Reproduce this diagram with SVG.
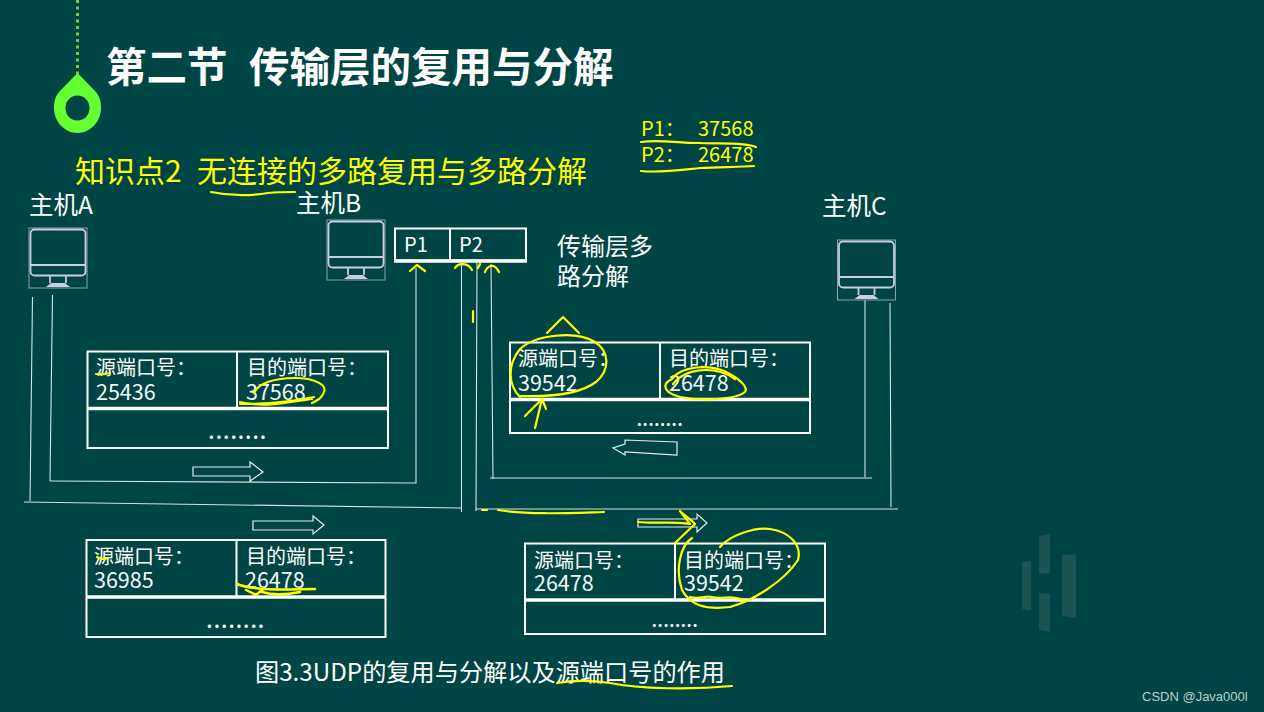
<svg xmlns="http://www.w3.org/2000/svg" width="1264" height="712" viewBox="0 0 1264 712">
<defs>
<style>
text{font-family:"Noto Sans CJK SC","Liberation Sans",sans-serif;fill:#fff}
.t{font-size:20px}
.n{font-size:21.500px;fill:#f4f8f8}
.y{fill:#ffff00}
.box{fill:none;stroke:#fff;stroke-width:2}
.thick{stroke:#fff;stroke-width:3.5;fill:none}
.wire{fill:none;stroke:#d3e2e2;stroke-width:1.1}
.ink{fill:none;stroke:#ffff00;stroke-width:2.200;stroke-linecap:round;stroke-linejoin:round}
.blk{fill:none;stroke:#e6eeee;stroke-width:1.2}
.mon{fill:none;stroke:#c9cde3;stroke-width:1.8}
.dots{font-size:18px;font-weight:700;letter-spacing:1.500px}
.dots2{font-size:16px;font-weight:700;letter-spacing:.6px}
.wm{fill:#1a5554}
</style>
<g id="monitor">
<rect x="0" y="0" width="58" height="60" fill="none" stroke="#8ea3ab" stroke-width="1"/>
<rect x="1.500" y="1.500" width="55" height="46" rx="4" class="mon"/>
<path d="M1.500 37H56.500" class="mon"/>
<path d="M21 48V55M37 48V55" class="mon"/>
<path d="M17 59L22 55H36L41 59Z" fill="#c9cde3"/>
</g>
</defs>
<rect width="1264" height="712" fill="#004545"/>
<g id="decor">
<path d="M77.500 0V74" stroke="#7dc832" stroke-width="3" stroke-dasharray="3 3.500" fill="none"/>
<path fill-rule="evenodd" d="M77.500 73L95 91C100 96 101 102 101 108C101 122 90 133 77.500 133C65 133 54 122 54 108C54 102 55 96 60 91ZM77.500 95.500C70.500 95.500 65.500 101 65.500 108C65.500 115 70.500 120.500 77.500 120.500C84.500 120.500 89.500 115 89.500 108C89.500 101 84.500 95.500 77.500 95.500Z" fill="#66ff33"/>
<g id="watermark">
<path class="wm" d="M1022 562L1031 561V610L1022 609Z"/>
<path class="wm" d="M1039 536L1050 534V573L1039 574Z"/>
<path class="wm" d="M1039 593L1050 594V632L1039 630Z"/>
<path class="wm" d="M1062 555L1076 554V618L1062 616Z"/>
</g>
</g>
<text y="82" font-size="40.500" font-weight="700"><tspan x="106">第二节</tspan><tspan x="249">传输层的复用与分解</tspan></text>
<text y="182" font-size="30" class="y"><tspan x="75">知识点2</tspan><tspan x="197">无连接的多路复用与多路分解</tspan></text>
<text x="641" y="136" font-size="20" class="y">P1：</text><text x="698" y="136" font-size="20" class="y">37568</text>
<text x="641" y="162" font-size="20" class="y">P2：</text><text x="698" y="162" font-size="20" class="y">26478</text>
<text x="557" y="255" font-size="24">传输层多</text>
<text x="557" y="285" font-size="24">路分解</text>
<text x="255" y="681" font-size="24.200">图3.3UDP的复用与分解以及源端口号的作用</text>
<text x="1142" y="701" font-size="13" style="font-family:'Liberation Sans',sans-serif;fill:#b9cfcf">CSDN @Java000l</text>

<g id="connectors">
<path class="wire" d="M32.500 297L30 501"/>
<path class="wire" d="M52.500 295L50 481"/>
<path class="wire" d="M50 481L416 483V268"/>
<path class="wire" d="M24 502L461 508"/>
<path class="wire" d="M461.500 263V512"/>
<path class="wire" d="M477 263L476 511"/>
<path class="wire" d="M476 509H898"/>
<path class="wire" d="M491 264L493 479"/>
<path class="wire" d="M490 478H872"/>
<path class="wire" d="M865 300V477"/>
<path class="wire" d="M890 303L891 507"/>
<path class="blk" d="M193 467H250V462L263 472L250 481V476H193Z"/>
<path class="blk" d="M253 521H313V516L324 525L313 534V530H253Z"/>
<path class="blk" d="M677 442L625 440V444L613 448L625 455V452L677 455Z"/>
<path class="blk" d="M638 519H697V514L707 523L697 532V527H638Z"/>
</g>

<g id="host-a"><text x="29" y="214" font-size="24.500">主机A</text><use href="#monitor" x="29" y="228"/></g>
<g id="host-b"><text x="296" y="212" font-size="24.500">主机B</text><use href="#monitor" x="327" y="220"/></g>
<g id="host-c"><text x="822" y="215" font-size="24.500">主机C</text><use href="#monitor" x="837.500" y="240"/></g>

<g id="ports">
<rect x="395" y="228.500" width="131" height="32" class="box"/>
<path class="thick" d="M394 261H527"/>
<path class="box" d="M450 229V260"/>
<text x="404" y="252" class="t">P1</text>
<text x="459" y="252" class="t">P2</text>
</g>

<g id="segment-a1">
<rect x="87.500" y="351.500" width="300.500" height="96.500" class="box"/>
<path class="thick" d="M87 408.500H388"/><path class="box" d="M237 352V408"/>
<text x="96" y="375" class="t">源端口号：</text><text x="96" y="400" class="n">25436</text>
<text x="247" y="375" class="t">目的端口号：</text><text x="246" y="400" class="n">37568</text>
<text x="238" y="439" text-anchor="middle" class="dots">........</text>
</g>
<g id="segment-a2">
<rect x="86.500" y="540" width="299" height="97" class="box"/>
<path class="thick" d="M86 597H386"/><path class="box" d="M236.500 540V597"/>
<text x="94" y="564" class="t">源端口号：</text><text x="94" y="588" class="n">36985</text>
<text x="246" y="564" class="t">目的端口号：</text><text x="245" y="588" class="n">26478</text>
<text x="236" y="628" text-anchor="middle" class="dots">........</text>
</g>
<g id="segment-c1">
<rect x="510" y="342.500" width="300" height="90.500" class="box"/>
<path class="thick" d="M510 399.500H810"/><path class="box" d="M660 343V399"/>
<text x="518" y="366" class="t">源端口号：</text><text x="518" y="391" class="n">39542</text>
<text x="669" y="366" class="t">目的端口号：</text><text x="669" y="391" class="n">26478</text>
<text x="660" y="426" text-anchor="middle" class="dots2">........</text>
</g>
<g id="segment-c2">
<rect x="525" y="543.500" width="300" height="90.500" class="box"/>
<path class="thick" d="M525 600H825"/><path class="box" d="M675 544V600"/>
<text x="534" y="568" class="t">源端口号：</text><text x="534" y="591" class="n">26478</text>
<text x="684" y="568" class="t">目的端口号：</text><text x="684" y="591" class="n">39542</text>
<text x="675" y="627" text-anchor="middle" class="dots2">........</text>
</g>

<g id="annotations">
<path class="ink" d="M211 192C230 196 250 196 268 193C278 192 288 192 295 192"/>
<path class="ink" d="M641 142C660 139 675 143 700 143C720 144 745 142 756 147"/>
<path class="ink" d="M641 171C660 173 680 170 700 168C720 167 740 167 754 166"/>
<path class="ink" d="M410 271L417 265L425 271"/>
<path class="ink" d="M455 268C458 263 468 262 472 270"/>
<path class="ink" d="M478 268L480 264"/>
<path class="ink" d="M473 311L473 322"/>
<path class="ink" d="M485 272C487 266 494 262 499 272"/>
<path class="ink" d="M547 333L563 317L579 333"/>
<path class="ink" d="M520 397C508 385 507 365 520 349C535 335 575 330 595 342C610 352 610 370 596 382C580 394 550 397 520 396"/>
<path class="ink" d="M525 416L542 399L546 409M542 399L535 428"/>
<path class="ink" d="M672 379C680 367 710 362 730 374C742 381 748 388 745 392C735 400 700 401 680 397C665 393 660 385 672 379"/>
<path class="ink" d="M673 384C685 368 715 365 735 379"/>
<path class="ink" d="M254 393C258 383 275 378 295 378C315 378 327 385 324 392C322 398 318 400 312 403"/>
<path class="ink" d="M240 404C260 404 290 402 314 397"/>
<path class="ink" d="M240 402C265 408 290 402 312 399"/>
<path class="ink" d="M96 374C101 375 106 374 110 373"/>
<path class="ink" d="M97 557C100 559 105 559 108 558"/>
<path class="ink" d="M237 584C250 590 285 590 315 589M246 590L256 595L262 590M262 592C275 596 290 594 300 592" style="stroke-width:2.500"/>
<path class="ink" d="M482 510L487 510M498 510C530 515 570 513 604 512"/>
<path class="ink" d="M638 522C655 524 670 521 690 524L680 511C685 516 692 520 695 524L675 543M692 538C680 546 675 570 682 590C690 605 705 610 730 607C755 600 785 580 798 560C802 545 790 532 770 529C755 527 730 535 720 547"/>
<path class="ink" d="M690 597C700 600 705 595 712 597C722 600 730 594 743 600"/>
<path class="ink" d="M557 683C575 680 590 680 610 683C640 689 690 690 732 686"/>
</g>
</svg>
